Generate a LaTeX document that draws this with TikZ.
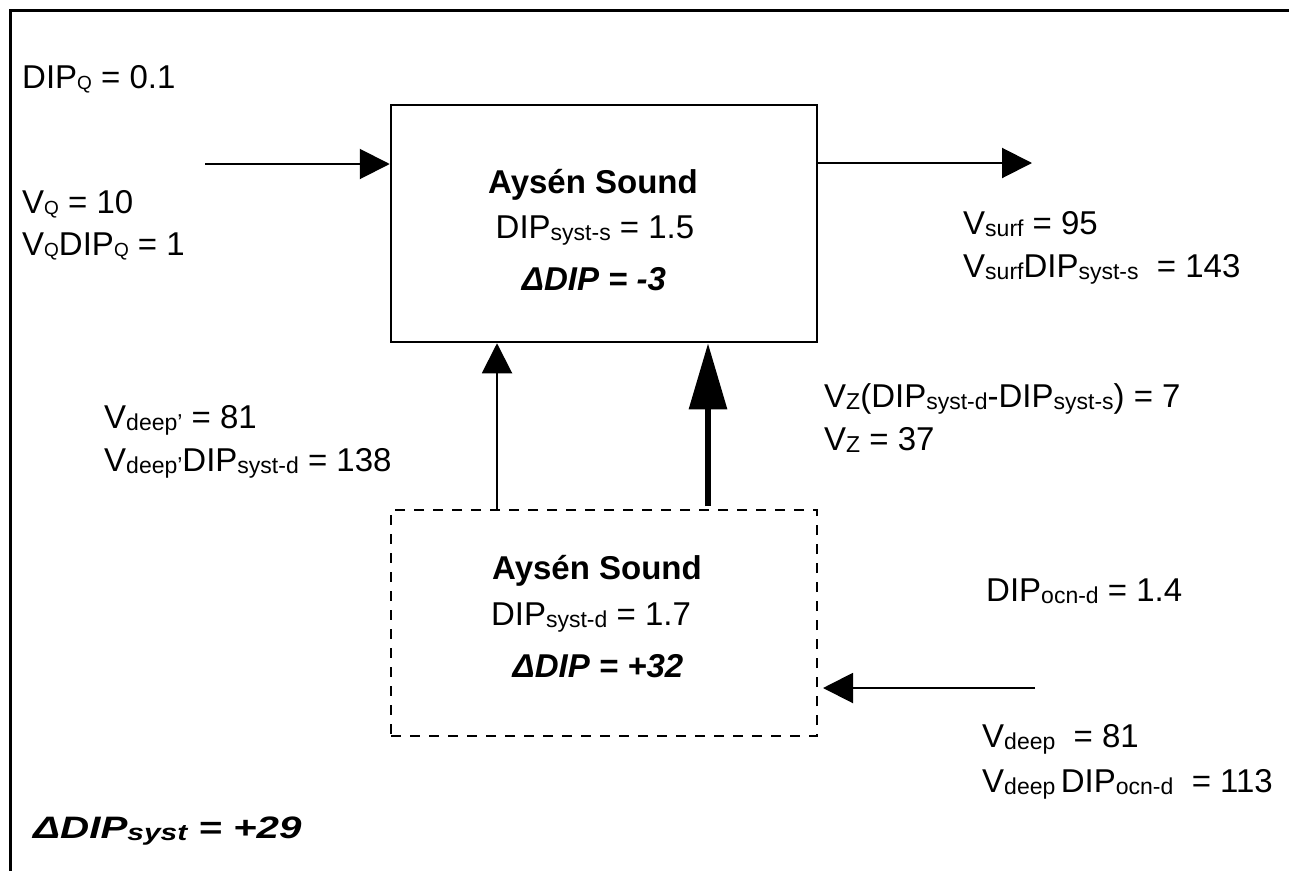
\documentclass[tikz,border=0pt]{standalone}
\usepackage{fontspec}
\setmainfont{Liberation Sans}
\usetikzlibrary{arrows.meta}
\newcommand{\sbs}[1]{\raisebox{-2pt}{\fontsize{23}{23}\selectfont #1}}
\newcommand{\sbq}[1]{\raisebox{-1pt}{\fontsize{19}{19}\selectfont #1}}
\begin{document}
\begin{tikzpicture}[x=1pt,y=-1pt,
  lbl/.style={anchor=base west, inner sep=0pt, font=\fontsize{33}{38}\selectfont},
  ctr/.style={anchor=base, inner sep=0pt, font=\fontsize{33}{38}\selectfont},
  ttl/.style={anchor=base, inner sep=0pt, font=\fontsize{33}{38}\selectfont\bfseries},
  dlt/.style={anchor=base, inner sep=0pt, font=\fontsize{33}{38}\selectfont\bfseries\itshape},
  box/.style={draw, line width=2.5pt, minimum width=426pt, minimum height=237pt, inner sep=0pt},
  dbox/.style={draw, line width=2pt, dash pattern=on 10pt off 9pt, minimum width=426pt, minimum height=226pt, inner sep=0pt},
  flow/.style={line width=2pt, -{Triangle[length=30pt,width=30pt]}},
  bigflow/.style={line width=6pt, -{Triangle[length=66pt,width=37pt]}},
]
\useasboundingbox (0,0) rectangle (1289,870);
\draw[line width=3pt] (10,875) -- (10,10) -- (1295,10);

% boxes
\node[box] (top) at (604,223.5) {};
\node[dbox] (dbx) at (604,623) {};

% box texts
\node[ttl] (t1) at (593,193) {Aysén Sound};
\node[ctr] (t2) at (595,238) {DIP\sbs{syst-s} = 1.5};
\node[dlt] (t3) at (594,290) {ΔDIP = -3};
\node[ttl] (d1) at (597,579) {Aysén Sound};
\node[ctr] (d2) at (591,625) {DIP\sbs{syst-d} = 1.7};
\node[dlt] (d3) at (598,677) {ΔDIP = +32};

% connectors
\coordinate (qin) at (205,164);
\draw[flow] (qin) -- (qin -| top.west);
\coordinate (qout) at (1032,163);
\draw[flow] (qout -| top.east) -- (qout);
\coordinate (xa) at (497,0);
\draw[flow] (xa |- dbx.north) -- (xa |- top.south);
\coordinate (xb) at (708,0);
\draw[bigflow] ([yshift=3pt]xb |- dbx.north) -- (xb |- top.south);
\coordinate (din) at (1035,688);
\draw[flow] (din) -- ([xshift=5pt]din -| dbx.east);

% labels
\node[lbl] (dipq) at (22,88) {DIP\sbq{Q} = 0.1};
\node[lbl] (vq) at (22,213) {V\sbq{Q} = 10};
\node[lbl] (vqdipq) at (22,255) {V\sbq{Q}DIP\sbq{Q} = 1};
\node[lbl] (vsurf) at (963,234) {V\sbs{surf} = 95};
\node[lbl] (vsurfdip) at (963,277) {V\sbs{surf}DIP\sbs{syst-s}\ \ = 143};
\node[lbl] (vzdip) at (824,407) {V\sbs{Z}(DIP\sbs{syst-d}-DIP\sbs{syst-s}) = 7};
\node[lbl] (vz) at (824,450) {V\sbs{Z} = 37};
\node[lbl] (vdp) at (104,428) {V\sbs{deep'} = 81};
\node[lbl] (vdpdip) at (104,471) {V\sbs{deep'}DIP\sbs{syst-d} = 138};
\node[lbl] (dipocn) at (986,601) {DIP\sbs{ocn-d} = 1.4};
\node[lbl] (vdeep) at (982,747) {V\sbs{deep}\ \ = 81};
\node[lbl] (vdeepdip) at (982,792) {V\sbs{deep}\,DIP\sbs{ocn-d}\ \ = 113};
\node[lbl, font=\fontsize{31}{38}\selectfont\bfseries\itshape] (dsys) at (33,838) {\scalebox{1.3}[1]{ΔDIP\sbs{syst} = +29}};
\end{tikzpicture}
\end{document}
